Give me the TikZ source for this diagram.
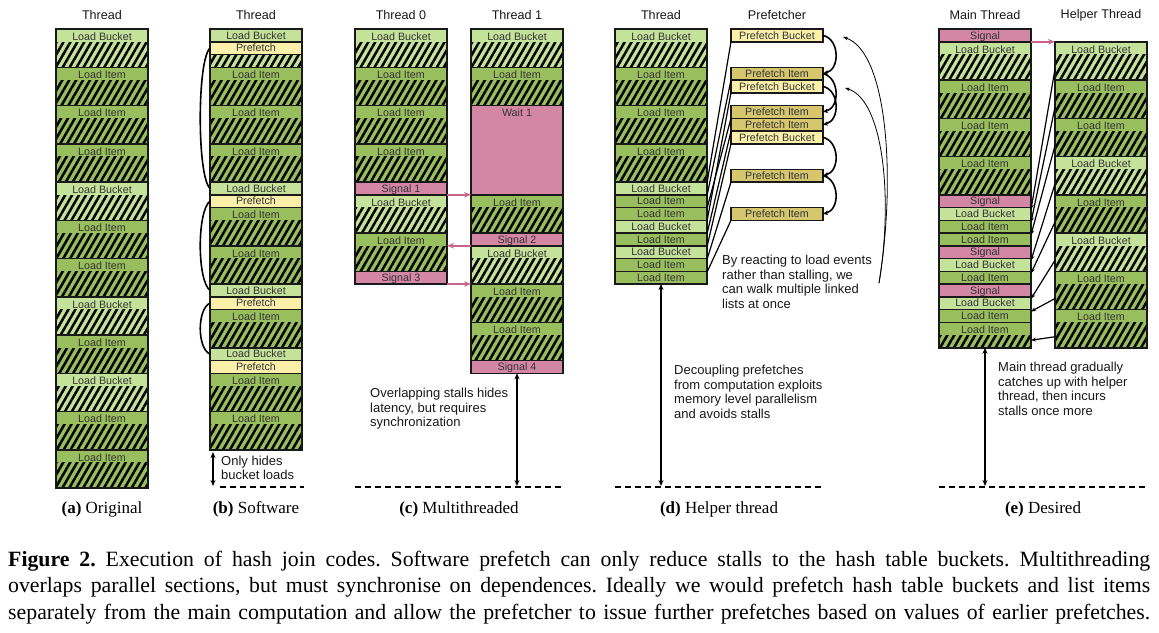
\documentclass[tikz,border=0pt]{standalone}
\usepackage{fontspec}
\setmainfont{Liberation Serif}
\newfontfamily\labfont{Liberation Sans}
\usetikzlibrary{patterns.meta,calc,arrows.meta}
\definecolor{lbc}{RGB}{197,226,155}
\definecolor{lic}{RGB}{153,190,93}
\definecolor{pfc}{RGB}{250,240,170}
\definecolor{pic}{RGB}{214,198,110}
\definecolor{sgc}{RGB}{212,135,165}
\definecolor{sga}{RGB}{200,100,140}
\newcommand\TallB[5]{\node[tall={#5},fill=#4] (#1) at ({#2},{29+12.75*#3}) {};}
\newcommand\SmallB[5]{\node[small,fill=#4] (#1) at ({#2},{29+12.75*#3}) {#5};}
\frenchspacing
\begin{document}
\begin{tikzpicture}[x=1pt,y=-1pt,
  box/.style={draw=black!90, line width=1.5pt, minimum width=92pt, anchor=north west,
    inner sep=0pt, outer sep=0pt, font=\labfont\fontsize{10.7}{12}\selectfont, text=black!80},
  hatchlow/.style={path picture={\fill[pattern={Lines[angle=60,distance=6pt,line width=2.5pt]},pattern color=black]
      ([yshift=-13pt]path picture bounding box.north west) rectangle (path picture bounding box.south east);}},
  hatchall/.style={path picture={\fill[pattern={Lines[angle=60,distance=6pt,line width=2.5pt]},pattern color=black]
      (path picture bounding box.north west) rectangle (path picture bounding box.south east);}},
  lbltop/.style={anchor=center, yshift=-7.5pt, inner sep=0pt, font=\labfont\fontsize{10.7}{12}\selectfont, text=black!80},
  tall/.style={box, hatchlow, minimum height=38.25pt, label={[lbltop]north:#1}},
  small/.style={box, minimum height=12.75pt, text height=7.7pt, text depth=0pt},
  hdr/.style={font=\labfont\fontsize{12.6}{14}\selectfont, text=black!90, inner sep=0pt},
  note/.style={font=\labfont\fontsize{13}{14.5}\selectfont, text=black!90, inner sep=0pt, align=left, anchor=north west},
  sig/.style={draw=sga, line width=1.6pt, -{Stealth[length=7pt,width=5.5pt]}},
  dep/.style={draw=black, line width=1.2pt, -{Stealth[length=5pt,width=4pt]}},
  arcb/.style={draw=black, line width=1.6pt},
  arcA/.style={draw=black, line width=1.6pt, -{Stealth[length=5pt,width=4.5pt]}},
  thinA/.style={draw=black, line width=0.8pt, -{Stealth[length=5pt,width=3.5pt]}},
  dbl/.style={draw=black, line width=1.8pt, {Stealth[length=6pt,width=5pt]}-{Stealth[length=6pt,width=5pt]}},
  baseln/.style={draw=black, line width=1.8pt, dash pattern=on 6pt off 4pt},
  subcap/.style={font=\fontsize{17}{20}\selectfont, inner sep=0pt, anchor=base},
  captext/.style={font=\fontsize{21.8}{26}\selectfont, inner sep=0pt, anchor=base west}]
\fill[white] (0,0) rectangle (1159,632);
\useasboundingbox (0,0) rectangle (1159,632);

% headers
\node[hdr] (hA) at (102,15) {Thread};
\node[hdr] (hB) at (256,15) {Thread};
\node[hdr] (hC0) at (401,15) {Thread 0};
\node[hdr] (hC1) at (517,15) {Thread 1};
\node[hdr] (hD) at (661,15) {Thread};
\node[hdr] (hP) at (777,15) {Prefetcher};
\node[hdr] (hE0) at (985,15) {Main Thread};
\node[hdr] (hE1) at (1101,15) {Helper Thread};

% (a)
\TallB{a0}{56}{0}{lbc}{Load Bucket}
\TallB{a1}{56}{3}{lic}{Load Item}
\TallB{a2}{56}{6}{lic}{Load Item}
\TallB{a3}{56}{9}{lic}{Load Item}
\TallB{a4}{56}{12}{lbc}{Load Bucket}
\TallB{a5}{56}{15}{lic}{Load Item}
\TallB{a6}{56}{18}{lic}{Load Item}
\TallB{a7}{56}{21}{lbc}{Load Bucket}
\TallB{a8}{56}{24}{lic}{Load Item}
\TallB{a9}{56}{27}{lbc}{Load Bucket}
\TallB{a10}{56}{30}{lic}{Load Item}
\TallB{a11}{56}{33}{lic}{Load Item}

% (b)
\SmallB{b0}{210}{0}{lbc}{Load Bucket}
\SmallB{b1}{210}{1}{pfc}{Prefetch}
\node[small, hatchall, fill=lbc] (b2) at (210,{29+12.75*2}) {};
\TallB{b3}{210}{3}{lic}{Load Item}
\TallB{b4}{210}{6}{lic}{Load Item}
\TallB{b5}{210}{9}{lic}{Load Item}
\SmallB{b6}{210}{12}{lbc}{Load Bucket}
\SmallB{b7}{210}{13}{pfc}{Prefetch}
\TallB{b8}{210}{14}{lic}{Load Item}
\TallB{b9}{210}{17}{lic}{Load Item}
\SmallB{b10}{210}{20}{lbc}{Load Bucket}
\SmallB{b11}{210}{21}{pfc}{Prefetch}
\TallB{b12}{210}{22}{lic}{Load Item}
\SmallB{b13}{210}{25}{lbc}{Load Bucket}
\SmallB{b14}{210}{26}{pfc}{Prefetch}
\TallB{b15}{210}{27}{lic}{Load Item}
\TallB{b16}{210}{30}{lic}{Load Item}
\draw[arcb] (b1.west) .. controls +(-13,12) and +(-13,-12) .. (b6.west);
\draw[arcb] (b7.west) .. controls +(-13,10) and +(-13,-10) .. (b10.west);
\draw[arcb] (b11.west) .. controls +(-13,6) and +(-13,-6) .. (b13.west);
\coordinate (bT) at (213,452);
\coordinate (bB) at (213,486);
\draw[dbl] (bT) -- (bB);
\node[note] (nB) at (221,455.5) {Only hides\\bucket loads};
\coordinate (bl0) at (220,487);
\coordinate (bl1) at (304,487);
\draw[baseln] (bl0) -- (bl1);

% (c) thread 0
\TallB{c0}{355}{0}{lbc}{Load Bucket}
\TallB{c1}{355}{3}{lic}{Load Item}
\TallB{c2}{355}{6}{lic}{Load Item}
\TallB{c3}{355}{9}{lic}{Load Item}
\SmallB{c4}{355}{12}{sgc}{Signal 1}
\TallB{c5}{355}{13}{lbc}{Load Bucket}
\TallB{c6}{355}{16}{lic}{Load Item}
\SmallB{c7}{355}{19}{sgc}{Signal 3}
% (c) thread 1
\TallB{t0}{471}{0}{lbc}{Load Bucket}
\TallB{t1}{471}{3}{lic}{Load Item}
\node[box, fill=sgc, minimum height=89.25pt, label={[lbltop]north:Wait 1}] (t2) at (471,{29+12.75*6}) {};
\TallB{t3}{471}{13}{lic}{Load Item}
\SmallB{t4}{471}{16}{sgc}{Signal 2}
\TallB{t5}{471}{17}{lbc}{Load Bucket}
\TallB{t6}{471}{20}{lic}{Load Item}
\TallB{t7}{471}{23}{lic}{Load Item}
\SmallB{t8}{471}{26}{sgc}{Signal 4}
\draw[sig] (c4.south east) -- (t2.south west);
\draw[sig] (t4.south west) -- (t4.south west -| c6.east);
\draw[sig] (c7.south east) -- (c7.south east -| t5.west);
\coordinate (cB) at (517,486);
\draw[dbl] (t8.south) -- (cB);
\node[note] (nC) at (370,388) {Overlapping stalls hides\\latency, but requires\\synchronization};
\coordinate (cl0) at (355,487);
\coordinate (cl1) at (563,487);
\draw[baseln] (cl0) -- (cl1);

% (d) thread
\TallB{d0}{615}{0}{lbc}{Load Bucket}
\TallB{d1}{615}{3}{lic}{Load Item}
\TallB{d2}{615}{6}{lic}{Load Item}
\TallB{d3}{615}{9}{lic}{Load Item}
\SmallB{d4}{615}{12}{lbc}{Load Bucket}
\SmallB{d5}{615}{13}{lic}{Load Item}
\SmallB{d6}{615}{14}{lic}{Load Item}
\SmallB{d7}{615}{15}{lbc}{Load Bucket}
\SmallB{d8}{615}{16}{lic}{Load Item}
\SmallB{d9}{615}{17}{lbc}{Load Bucket}
\SmallB{d10}{615}{18}{lic}{Load Item}
\SmallB{d11}{615}{19}{lic}{Load Item}
% (d) prefetcher
\SmallB{p0}{731}{0}{pfc}{Prefetch Bucket}
\SmallB{p3}{731}{3}{pic}{Prefetch Item}
\SmallB{p4}{731}{4}{pfc}{Prefetch Bucket}
\SmallB{p6}{731}{6}{pic}{Prefetch Item}
\SmallB{p7}{731}{7}{pic}{Prefetch Item}
\SmallB{p8}{731}{8}{pfc}{Prefetch Bucket}
\SmallB{p11}{731}{11}{pic}{Prefetch Item}
\SmallB{p14}{731}{14}{pic}{Prefetch Item}
\foreach \p/\d in {p0/d4,p3/d5,p6/d6,p4/d7,p7/d8,p8/d9,p11/d10,p14/d11}
  \draw[black, line width=1.2pt] (\p.south west) -- ([yshift=-1pt]\d.north east);
\draw[arcA] (p0.east) .. controls +(17,4) and +(17,-4) .. (p3.east);
\draw[arcA] (p3.east) .. controls +(17,4) and +(17,-4) .. (p6.east);
\draw[arcA] (p4.east) .. controls +(17,4) and +(17,-4) .. (p7.east);
\draw[arcA] (p8.east) .. controls +(17,4) and +(17,-4) .. (p11.east);
\draw[arcA] (p11.east) .. controls +(17,4) and +(17,-4) .. (p14.east);
\coordinate (dq) at (879,283);
\coordinate (dq1) at (843,37);
\coordinate (dq2) at (845,88);
\draw[thinA] (dq) .. controls (896,180) and (888,52) .. (dq1);
\draw[thinA] (dq) .. controls (893,200) and (884,100) .. (dq2);
\node[note] (nD1) at (722,255) {By reacting to load events\\rather than stalling, we\\can walk multiple linked\\lists at once};
\coordinate (dB) at (661,486);
\draw[dbl] (d11.south) -- (dB);
\node[note] (nD2) at (674,365) {Decoupling prefetches\\from computation exploits\\memory level parallelism\\and avoids stalls};
\coordinate (dl0) at (615,487);
\coordinate (dl1) at (823,487);
\draw[baseln] (dl0) -- (dl1);

% (e) main
\SmallB{e0}{939}{0}{sgc}{Signal}
\TallB{e1}{939}{1}{lbc}{Load Bucket}
\TallB{e2}{939}{4}{lic}{Load Item}
\TallB{e3}{939}{7}{lic}{Load Item}
\TallB{e4}{939}{10}{lic}{Load Item}
\SmallB{e5}{939}{13}{sgc}{Signal}
\SmallB{e6}{939}{14}{lbc}{Load Bucket}
\SmallB{e7}{939}{15}{lic}{Load Item}
\SmallB{e8}{939}{16}{lic}{Load Item}
\SmallB{e9}{939}{17}{sgc}{Signal}
\SmallB{e10}{939}{18}{lbc}{Load Bucket}
\SmallB{e11}{939}{19}{lic}{Load Item}
\SmallB{e12}{939}{20}{sgc}{Signal}
\SmallB{e13}{939}{21}{lbc}{Load Bucket}
\SmallB{e14}{939}{22}{lic}{Load Item}
\node[box, hatchlow, fill=lic, minimum height=25.5pt, label={[lbltop]north:Load Item}] (e15) at (939,{29+12.75*23}) {};
% (e) helper
\TallB{h0}{1055}{1}{lbc}{Load Bucket}
\TallB{h1}{1055}{4}{lic}{Load Item}
\TallB{h2}{1055}{7}{lic}{Load Item}
\TallB{h3}{1055}{10}{lbc}{Load Bucket}
\TallB{h4}{1055}{13}{lic}{Load Item}
\TallB{h5}{1055}{16}{lbc}{Load Bucket}
\TallB{h6}{1055}{19}{lic}{Load Item}
\TallB{h7}{1055}{22}{lic}{Load Item}
\draw[sig] (e0.south east) -- (h0.north west);
\foreach \h/\e in {h0/e6,h1/e7,h2/e8,h3/e10,h4/e11,h5/e13,h6/e14}
  \draw[dep] ([yshift=11pt]\h.south west) -- ([yshift=-2pt]\e.north east);
\draw[dep] ([yshift=11pt]h7.south west) -- ([yshift=-18pt]e15.north east);
\coordinate (eB) at (985,486);
\draw[dbl] (e15.south) -- (eB);
\node[note] (nE) at (998,362) {Main thread gradually\\catches up with helper\\thread, then incurs\\stalls once more};
\coordinate (el0) at (939,487);
\coordinate (el1) at (1147,487);
\draw[baseln] (el0) -- (el1);

% sub-captions
\node[subcap] (sA) at (102,513) {\textbf{(a)} Original};
\node[subcap] (sB) at (256,513) {\textbf{(b)} Software};
\node[subcap] (sC) at (459,513) {\textbf{(c)} Multithreaded};
\node[subcap] (sD) at (719,513) {\textbf{(d)} Helper thread};
\node[subcap] (sE) at (1043,513) {\textbf{(e)} Desired};

% caption
\node[captext] (k1) at (8,566) {\makebox[1142pt][s]{\textbf{Figure 2.} Execution of hash join codes. Software prefetch can only reduce stalls to the hash table buckets. Multithreading}};
\node[captext] (k2) at (8,592.5) {\makebox[1142pt][s]{overlaps parallel sections, but must synchronise on dependences. Ideally we would prefetch hash table buckets and list items}};
\node[captext] (k3) at (8,619) {\makebox[1142pt][s]{separately from the main computation and allow the prefetcher to issue further prefetches based on values of earlier prefetches.}};
\end{tikzpicture}
\end{document}
